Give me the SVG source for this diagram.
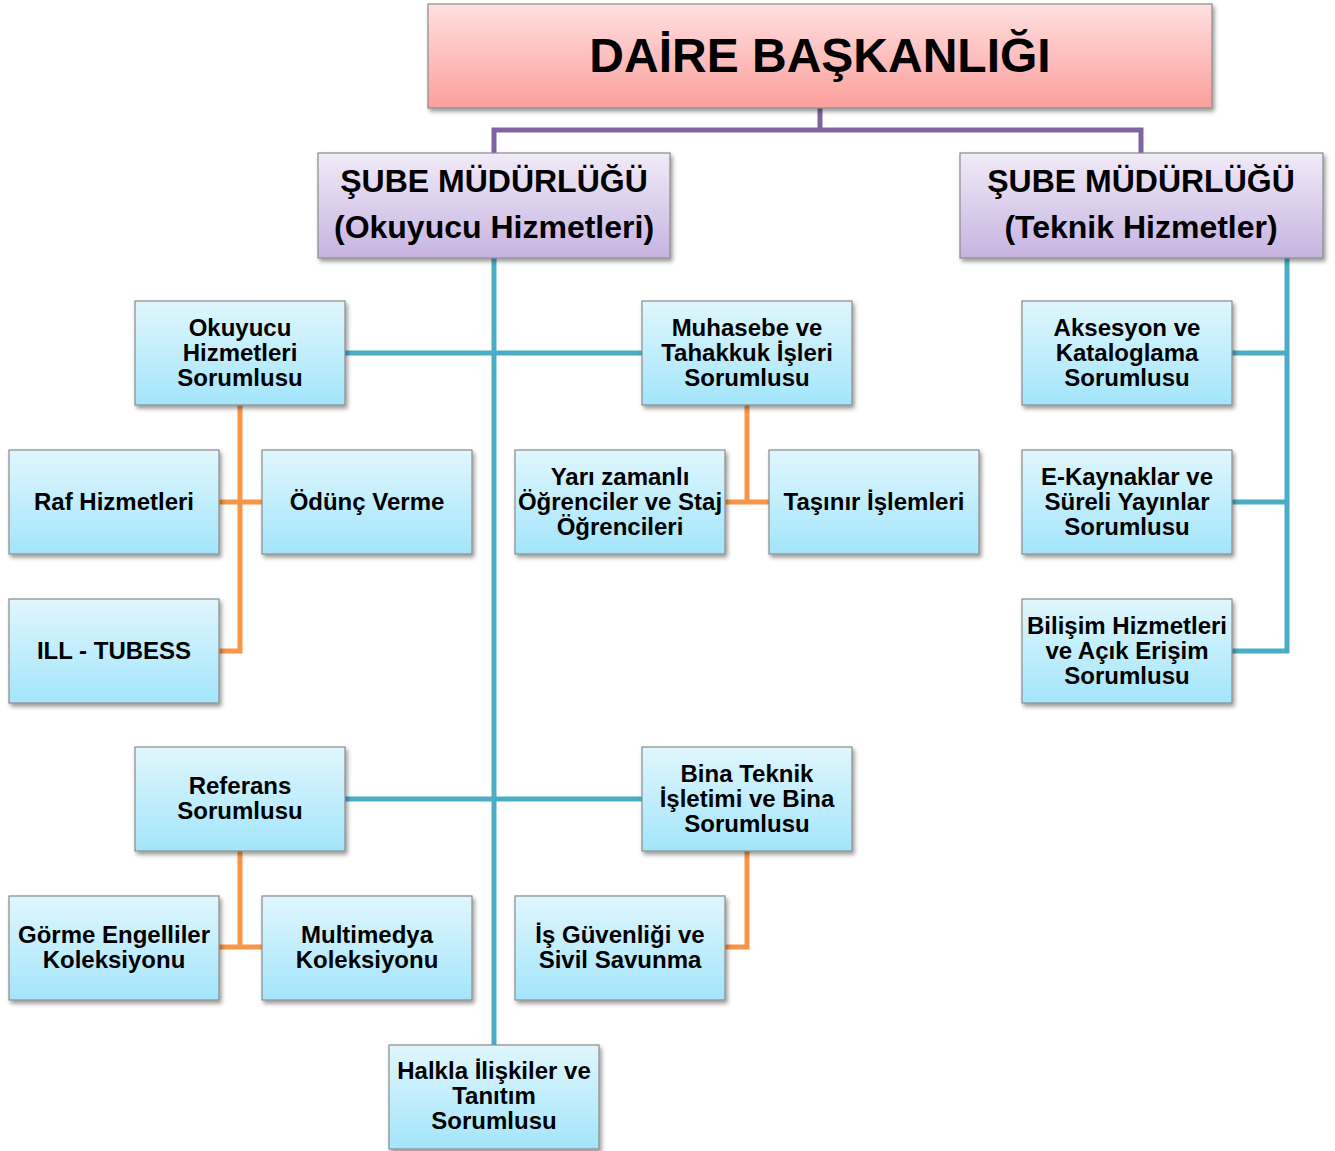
<svg xmlns="http://www.w3.org/2000/svg" width="1335" height="1151" viewBox="0 0 1335 1151">
<defs>
<linearGradient id="gBlue" x1="0" y1="0" x2="0" y2="1">
<stop offset="0" stop-color="#e0f6fd"/><stop offset="1" stop-color="#a3e5fb"/>
</linearGradient>
<linearGradient id="gPurple" x1="0" y1="0" x2="0" y2="1">
<stop offset="0" stop-color="#f1ebf8"/><stop offset="1" stop-color="#c6b3e0"/>
</linearGradient>
<linearGradient id="gRed" x1="0" y1="0" x2="0" y2="1">
<stop offset="0" stop-color="#ffe0e0"/><stop offset="1" stop-color="#fb9f9c"/>
</linearGradient>
<filter id="sh" x="-10%" y="-10%" width="125%" height="135%">
<feDropShadow dx="2" dy="3" stdDeviation="2" flood-color="#000" flood-opacity="0.4"/>
</filter>
</defs>
<style>
.box{stroke:#8a8a8a;stroke-width:1.2;filter:url(#sh)}
.b{fill:url(#gBlue)}
.p{fill:url(#gPurple)}
.r{fill:url(#gRed)}
text{font-family:"Liberation Sans",Arial,sans-serif;font-weight:bold;fill:#000;text-anchor:middle}
.t{font-size:24px}
.m{font-size:32px}
.h{font-size:48px}
.cp{stroke:#8064a2;stroke-width:5;fill:none}
.ct{stroke:#4bacc6;stroke-width:5;fill:none}
.co{stroke:#f79646;stroke-width:5;fill:none}
</style>
<rect width="1335" height="1151" fill="#fff"/>
<g id="connectors">
<path class="cp" d="M820 108V130M494 153V130H1141V153"/>
<path class="ct" d="M494 258V1045M345 353H642M345 799H642"/>
<path class="ct" d="M1287 258V651H1232M1232 353H1287M1232 502H1287"/>
<path class="co" d="M240 405V651H219M219 502H262"/>
<path class="co" d="M747 405V502M725 502H769"/>
<path class="co" d="M240 851V947M219 947H262"/>
<path class="co" d="M747 851V947H725"/>
</g>
<g id="daire"><rect class="box r" x="428" y="4" width="784" height="104"/><text class="h" x="820" y="72">DAİRE BAŞKANLIĞI</text></g>
<g id="sube1"><rect class="box p" x="318" y="153" width="352" height="105"/><text class="m" x="494" y="192">ŞUBE MÜDÜRLÜĞÜ</text><text class="m" x="494" y="238">(Okuyucu Hizmetleri)</text></g>
<g id="sube2"><rect class="box p" x="960" y="153" width="363" height="105"/><text class="m" x="1141" y="192">ŞUBE MÜDÜRLÜĞÜ</text><text class="m" x="1141" y="238">(Teknik Hizmetler)</text></g>
<g id="okuyucu"><rect class="box b" x="135" y="301" width="210" height="104"/><text class="t" x="240" y="336">Okuyucu</text><text class="t" x="240" y="361">Hizmetleri</text><text class="t" x="240" y="386">Sorumlusu</text></g>
<g id="muhasebe"><rect class="box b" x="642" y="301" width="210" height="104"/><text class="t" x="747" y="336">Muhasebe ve</text><text class="t" x="747" y="361">Tahakkuk İşleri</text><text class="t" x="747" y="386">Sorumlusu</text></g>
<g id="aksesyon"><rect class="box b" x="1022" y="301" width="210" height="104"/><text class="t" x="1127" y="336">Aksesyon ve</text><text class="t" x="1127" y="361">Kataloglama</text><text class="t" x="1127" y="386">Sorumlusu</text></g>
<g id="raf"><rect class="box b" x="9" y="450" width="210" height="104"/><text class="t" x="114" y="510">Raf Hizmetleri</text></g>
<g id="odunc"><rect class="box b" x="262" y="450" width="210" height="104"/><text class="t" x="367" y="510">Ödünç Verme</text></g>
<g id="yari"><rect class="box b" x="515" y="450" width="210" height="104"/><text class="t" x="620" y="485">Yarı zamanlı</text><text class="t" x="620" y="510">Öğrenciler ve Staj</text><text class="t" x="620" y="535">Öğrencileri</text></g>
<g id="tasinir"><rect class="box b" x="769" y="450" width="210" height="104"/><text class="t" x="874" y="510">Taşınır İşlemleri</text></g>
<g id="ekaynak"><rect class="box b" x="1022" y="450" width="210" height="104"/><text class="t" x="1127" y="485">E-Kaynaklar ve</text><text class="t" x="1127" y="510">Süreli Yayınlar</text><text class="t" x="1127" y="535">Sorumlusu</text></g>
<g id="ill"><rect class="box b" x="9" y="599" width="210" height="104"/><text class="t" x="114" y="659">ILL - TUBESS</text></g>
<g id="bilisim"><rect class="box b" x="1022" y="599" width="210" height="104"/><text class="t" x="1127" y="634">Bilişim Hizmetleri</text><text class="t" x="1127" y="659">ve Açık Erişim</text><text class="t" x="1127" y="684">Sorumlusu</text></g>
<g id="referans"><rect class="box b" x="135" y="747" width="210" height="104"/><text class="t" x="240" y="794">Referans</text><text class="t" x="240" y="819">Sorumlusu</text></g>
<g id="bina"><rect class="box b" x="642" y="747" width="210" height="104"/><text class="t" x="747" y="782">Bina Teknik</text><text class="t" x="747" y="807">İşletimi ve Bina</text><text class="t" x="747" y="832">Sorumlusu</text></g>
<g id="gorme"><rect class="box b" x="9" y="896" width="210" height="104"/><text class="t" x="114" y="943">Görme Engelliler</text><text class="t" x="114" y="968">Koleksiyonu</text></g>
<g id="multimedya"><rect class="box b" x="262" y="896" width="210" height="104"/><text class="t" x="367" y="943">Multimedya</text><text class="t" x="367" y="968">Koleksiyonu</text></g>
<g id="isguv"><rect class="box b" x="515" y="896" width="210" height="104"/><text class="t" x="620" y="943">İş Güvenliği ve</text><text class="t" x="620" y="968">Sivil Savunma</text></g>
<g id="halkla"><rect class="box b" x="389" y="1045" width="210" height="104"/><text class="t" x="494" y="1079">Halkla İlişkiler ve</text><text class="t" x="494" y="1104">Tanıtım</text><text class="t" x="494" y="1129">Sorumlusu</text></g>
</svg>
